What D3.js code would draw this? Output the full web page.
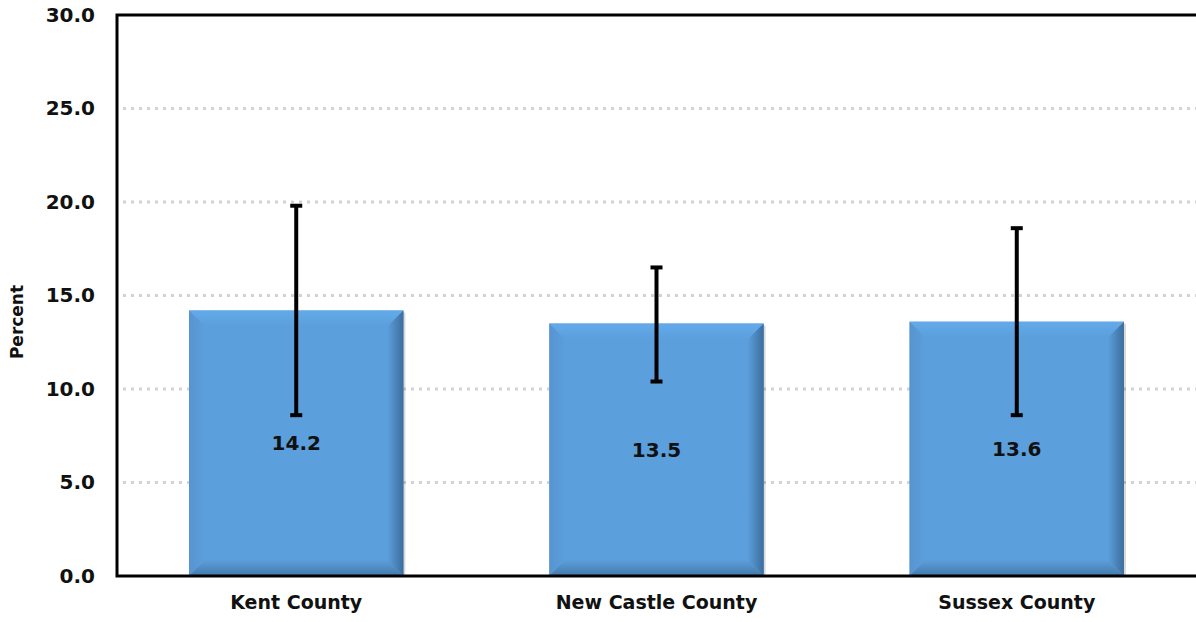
<!DOCTYPE html>
<html><head><meta charset="utf-8">
<script src="https://cdn.jsdelivr.net/npm/d3@7"></script>
<style>body{margin:0;background:#fff}svg{display:block}text{font-family:"DejaVu Sans",sans-serif;font-weight:bold}</style>
</head><body><svg id="c" width="1196" height="622"></svg>
<script>
const categories = ["Kent County", "New Castle County", "Sussex County"];
const values = [14.2, 13.5, 13.6];
const errLow = [8.6, 10.4, 8.6];
const errHigh = [19.8, 16.5, 18.6];
const yTicks = [0, 5, 10, 15, 20, 25, 30];

const svg = d3.select("#c");
const L = 117, R = 1199, T = 15, B = 576;
const x = d3.scaleBand().domain(categories).range([L, R - 3]).paddingInner(0.405).paddingOuter(0.2);
const y = d3.scaleLinear().domain([0, 30]).range([B, T]);

// gridlines
svg.append("g").selectAll("line").data(yTicks.filter(d => d > 0 && d < 30)).join("line")
  .attr("x1", L + 6).attr("x2", R).attr("y1", d => y(d)).attr("y2", d => y(d))
  .attr("stroke", "#d3d3d3").attr("stroke-width", 3).attr("stroke-dasharray", "3,5");

// gradients for bevel
const defs = svg.append("defs");
function grad(id, x1, y1, x2, y2, c1, c2) {
  const gr = defs.append("linearGradient").attr("id", id)
    .attr("x1", x1).attr("y1", y1).attr("x2", x2).attr("y2", y2);
  gr.append("stop").attr("offset", "0").attr("stop-color", c1);
  gr.append("stop").attr("offset", "1").attr("stop-color", c2);
}
const base = "#5b9fdc";
grad("gTop", 0, 0, 0, 1, "#64aaea", base);
grad("gLeft", 0, 0, 1, 0, "#5794cf", base);
grad("gRight", 1, 0, 0, 0, "#3d6d9c", base);
grad("gBottom", 0, 1, 0, 0, "#4478aa", base);

const g = svg.append("g");
const bev = 16;
categories.forEach((c, i) => {
  const x0 = x(c), w = x.bandwidth(), y0 = y(values[i]), h = B - y0;
  const x1 = x0 + w, y1 = B;
  g.append("rect").attr("x", x0 + 2).attr("y", y0 + 2).attr("width", w).attr("height", h - 2).attr("fill", "rgba(0,0,0,0.15)");
  g.append("rect").attr("x", x0).attr("y", y0).attr("width", w).attr("height", h).attr("fill", base);
  const poly = (pts, fill) => g.append("polygon").attr("points", pts.map(p => p.join(",")).join(" ")).attr("fill", fill);
  poly([[x0, y0], [x1, y0], [x1 - bev, y0 + bev], [x0 + bev, y0 + bev]], "url(#gTop)");
  poly([[x0, y0], [x0 + bev, y0 + bev], [x0 + bev, y1 - bev], [x0, y1]], "url(#gLeft)");
  poly([[x1, y0], [x1, y1], [x1 - bev, y1 - bev], [x1 - bev, y0 + bev]], "url(#gRight)");
  poly([[x0, y1], [x0 + bev, y1 - bev], [x1 - bev, y1 - bev], [x1, y1]], "url(#gBottom)");
  g.append("text").attr("x", x0 + w / 2).attr("y", (y0 + B) / 2).attr("dy", "0.35em")
    .attr("text-anchor", "middle").attr("font-size", 20).attr("fill", "#111").text(values[i].toFixed(1));
});

// error bars
const eb = svg.append("g").attr("stroke", "#000").attr("stroke-width", 4);
categories.forEach((c, i) => {
  const cx = x(c) + x.bandwidth() / 2;
  eb.append("line").attr("x1", cx).attr("x2", cx).attr("y1", y(errLow[i])).attr("y2", y(errHigh[i]));
  eb.append("line").attr("x1", cx - 6).attr("x2", cx + 6).attr("y1", y(errLow[i])).attr("y2", y(errLow[i]));
  eb.append("line").attr("x1", cx - 6).attr("x2", cx + 6).attr("y1", y(errHigh[i])).attr("y2", y(errHigh[i]));
});

// frame
svg.append("rect").attr("x", L).attr("y", T).attr("width", R - L).attr("height", B - T)
  .attr("fill", "none").attr("stroke", "#000").attr("stroke-width", 3);

// axes
const yAxis = svg.append("g").attr("transform", `translate(${L},0)`)
  .call(d3.axisLeft(y).tickValues(yTicks).tickFormat(d3.format(".1f")).tickSize(0).tickPadding(22));
yAxis.select(".domain").remove();
yAxis.selectAll("text").attr("font-size", 20).attr("fill", "#111").attr("font-family", "DejaVu Sans").attr("font-weight", "bold");

const xAxis = svg.append("g").attr("transform", `translate(0,${B})`)
  .call(d3.axisBottom(x).tickSize(0).tickPadding(20));
xAxis.select(".domain").remove();
xAxis.selectAll("text").attr("font-size", 19).attr("fill", "#111").attr("font-family", "DejaVu Sans").attr("font-weight", "bold");

svg.append("text").attr("transform", `translate(23,322) rotate(-90)`)
  .attr("text-anchor", "middle").attr("font-size", 17).attr("fill", "#111").text("Percent");
</script></body></html>
